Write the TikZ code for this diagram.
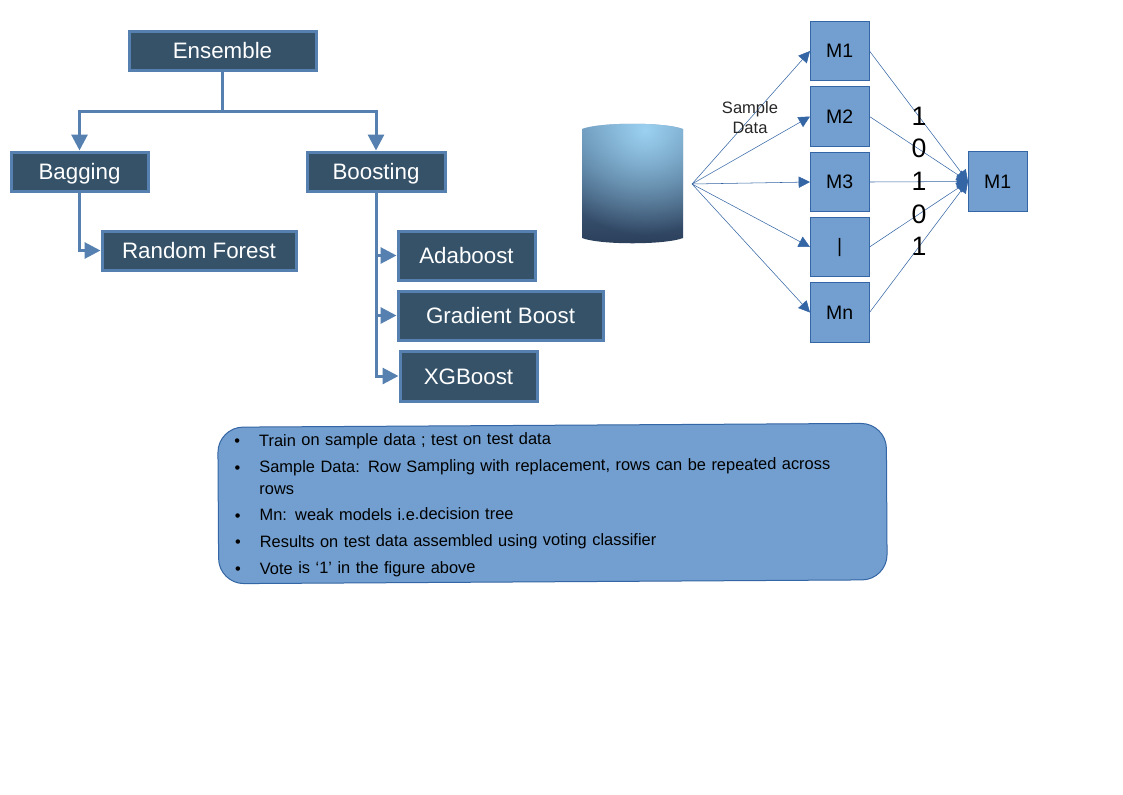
\documentclass[tikz,border=0pt]{standalone}
\usepackage{fontspec}
\setmainfont{Liberation Sans}
\usepackage{tikz}
\usetikzlibrary{arrows.meta, fadings}
\definecolor{TreeFill}{HTML}{355269}
\definecolor{TreeLine}{HTML}{5580B0}
\definecolor{ModelFill}{HTML}{729FCF}
\definecolor{ModelLine}{HTML}{3465A4}
\definecolor{DbTop}{HTML}{5A82A6}
\definecolor{DbBottom}{HTML}{2B3F5A}
\definecolor{DbGlow}{HTML}{A8E0FF}
\tikzfading[name = dbglow, inner color = transparent!15, outer color = transparent!100]
\newenvironment{votelist}{\begin{list}{\textbullet}{%
    \setlength{\leftmargin}{20.25pt}\setlength{\labelwidth}{6pt}\setlength{\labelsep}{14.25pt}\setlength{\rightmargin}{9pt}%
    \setlength{\topsep}{0pt}\setlength{\partopsep}{0pt}\setlength{\parsep}{0pt}\setlength{\itemsep}{4pt}}}{\end{list}}
\tikzset{
    boxsize/.style 2 args = {minimum width = #1*0.75pt, minimum height = #2*0.75pt},
    treebox/.style = {draw = TreeLine, fill = TreeFill, line width = 2.25pt, text = white, font = \fontsize{16.75}{20}\selectfont, inner sep = 0pt, text height = 15pt, text depth = 3pt},
    treeline/.style = {draw = TreeLine, line width = 2.25pt, -{Triangle[length = 12pt, width = 12pt]}},
    modelbox/.style = {draw = ModelLine, fill = ModelFill, line width = 0.75pt, boxsize = {58.5}{59.5}, font = \fontsize{14.6}{17}\selectfont, inner sep = 0pt},
    modelline/.style = {draw = ModelLine, line width = 0.4pt, -{Triangle[length = 8.5pt, width = 8.5pt]}},
    votedigit/.style = {font = \fontsize{20}{24}\selectfont, inner sep = 0pt}
}
\begin{document}
\begin{tikzpicture}[x = 0.75pt, y = -0.75pt]
    \useasboundingbox (0,0) rectangle (1123,794);

    \node[treebox, boxsize = {187}{39}] (ensemble) at (222.5,50.5) {Ensemble};
    \node[treebox, boxsize = {137}{39}] (bagging) at (79.5,171.5) {Bagging};
    \node[treebox, boxsize = {138}{39}] (boosting) at (376,171.5) {Boosting};
    \node[treebox, boxsize = {194}{39}] (forest) at (199,250.5) {Random Forest};
    \node[treebox, boxsize = {137}{49}] (adaboost) at (466.5,255.5) {Adaboost};
    \node[treebox, boxsize = {205}{49}] (gradient) at (500.5,315.5) {Gradient Boost};
    \node[treebox, boxsize = {137}{50}] (xgboost) at (468.5,376) {XGBoost};

    \coordinate (split) at (222.5,111);
    \draw[treeline] (ensemble.south) -- (split) -| (bagging.north);
    \draw[treeline] (split) -| (boosting.north);
    \draw[treeline] (bagging.south) |- (forest.west);
    \draw[treeline] (boosting.south) |- (adaboost.west);
    \draw[treeline] (boosting.south) |- (gradient.west);
    \draw[treeline] (boosting.south) |- (xgboost.west);

    % database
    \shade[top color = DbTop, bottom color = DbBottom] (582,129) .. controls (600,122) and (665,122) .. (683,129) -- (683,238)
        .. controls (665,245) and (600,245) .. (582,238) -- cycle;
    \begin{scope}
        \clip (582,129) .. controls (600,122) and (665,122) .. (683,129) -- (683,238)
            .. controls (665,245) and (600,245) .. (582,238) -- cycle;
        \fill[DbGlow, path fading = dbglow] (645,130) circle (105);
    \end{scope}
    \coordinate (fan) at (692,184);

    \node[modelbox] (m1) at (839.75,51) {M1};
    \node[modelbox] (m2) at (839.75,116.5) {M2};
    \node[modelbox] (m3) at (839.75,182) {M3};
    \node[modelbox] (mi) at (839.75,247) {|};
    \node[modelbox] (mn) at (839.75,312.5) {Mn};
    \node[modelbox] (vote) at (997.75,181.5) {M1};

    \foreach \m in {m1, m2, m3, mi, mn} {
        \draw[modelline] (fan) -- (\m.west);
        \draw[modelline] (\m.east) -- (vote.west);
    }

    \node[font = \fontsize{12.4}{14.5}\selectfont, text = black!85, align = center, inner sep = 0pt] (sample) at (750,117.5) {Sample\\Data};

    \foreach \d/\y [count = \i] in {1/116.5, 0/148.5, 1/181.5, 0/214.5, 1/246.5}
        \node[votedigit] (digit\i) at (919,\y) {\d};

    % notes
    \node[draw = ModelLine, fill = ModelFill, line width = 0.75pt, rounded corners = 19pt, rotate = 0.34,
        boxsize = {668.5}{156.5}, inner xsep = 0pt, inner ysep = 0pt, text width = 480pt,
        font = \fontsize{12.33}{16}\selectfont] (notes) at (552.5,503.5) {%
        \vspace*{-6pt}
        \begin{votelist}
            \item Train on sample data ; test on test data
            \item Sample Data: Row Sampling with replacement, rows can be repeated across rows
            \item Mn: weak models i.e.decision tree
            \item Results on test data assembled using voting classifier
            \item Vote is ‘1’ in the figure above
        \end{votelist}};
\end{tikzpicture}
\end{document}
